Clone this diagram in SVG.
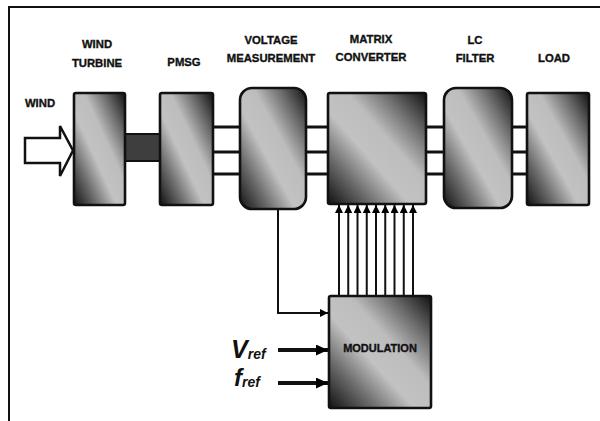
<svg xmlns="http://www.w3.org/2000/svg" width="600" height="421" viewBox="0 0 600 421">
<defs>
<linearGradient id="shade" x1="0" y1="1" x2="1" y2="0">
<stop offset="0" stop-color="#111"/>
<stop offset="0.22" stop-color="#6a6a6a"/>
<stop offset="0.42" stop-color="#c2c2c2"/>
<stop offset="0.6" stop-color="#bdbdbd"/>
<stop offset="0.8" stop-color="#6a6a6a"/>
<stop offset="1" stop-color="#111"/>
</linearGradient>
<marker id="ah" markerUnits="userSpaceOnUse" markerWidth="8" markerHeight="8" refX="8" refY="4" orient="auto">
<path d="M0,0 L8,4 L0,8 z" fill="#000"/>
</marker>
<marker id="ahb" markerUnits="userSpaceOnUse" markerWidth="12" markerHeight="11" refX="12" refY="5.5" orient="auto">
<path d="M0,0 L12,5.5 L0,11 z" fill="#000"/>
</marker>
</defs>
<style>
.box{fill:url(#shade);stroke:#111;stroke-width:2.6}
.lbl{font-family:"Liberation Sans",Arial,sans-serif;font-weight:bold;font-size:11.3px;fill:#111;stroke:#111;stroke-width:0.35;text-anchor:middle}
.bus{stroke:#111;stroke-width:3}
.thin{stroke:#111;stroke-width:2;fill:none}
.thick{stroke:#111;stroke-width:4;fill:none}
.ref{font-family:"Liberation Sans",Arial,sans-serif;font-weight:bold;font-style:italic;fill:#111}
</style>
<rect x="0" y="0" width="600" height="421" fill="#fff"/>
<path d="M9,421 L9,7 L600,7" fill="none" stroke="#111" stroke-width="2"/>

<g id="wind-input">
<text class="lbl" x="40" y="107">WIND</text>
<path d="M25,138 L60,138 L60,126 L73,150.5 L60,176 L60,163 L25,163 z" fill="#fff" stroke="#111" stroke-width="2.5" stroke-linejoin="miter"/>
</g>

<g id="shaft">
<rect x="125" y="134" width="35" height="27" fill="#3e3e3e" stroke="#111" stroke-width="2"/>
</g>

<g id="connectors">
<line class="bus" x1="213" y1="127" x2="240" y2="127"/>
<line class="bus" x1="213" y1="152" x2="240" y2="152"/>
<line class="bus" x1="213" y1="174" x2="240" y2="174"/>
<line class="bus" x1="306" y1="127" x2="328" y2="127"/>
<line class="bus" x1="306" y1="152" x2="328" y2="152"/>
<line class="bus" x1="306" y1="174" x2="328" y2="174"/>
<line class="bus" x1="426" y1="127" x2="444" y2="127"/>
<line class="bus" x1="426" y1="152" x2="444" y2="152"/>
<line class="bus" x1="426" y1="174" x2="444" y2="174"/>
<line class="bus" x1="512" y1="127" x2="527" y2="127"/>
<line class="bus" x1="512" y1="152" x2="527" y2="152"/>
<line class="bus" x1="512" y1="174" x2="527" y2="174"/>
<path class="thin" d="M278,209 L278,313 L328,313" marker-end="url(#ah)"/>
<line class="thick" x1="278" y1="350" x2="328" y2="350" marker-end="url(#ahb)"/>
<line class="thick" x1="278" y1="383" x2="328" y2="383" marker-end="url(#ahb)"/>
<line class="thin" x1="339" y1="296" x2="339" y2="205" marker-end="url(#ah)"/>
<line class="thin" x1="348.25" y1="296" x2="348.25" y2="205" marker-end="url(#ah)"/>
<line class="thin" x1="357.5" y1="296" x2="357.5" y2="205" marker-end="url(#ah)"/>
<line class="thin" x1="366.75" y1="296" x2="366.75" y2="205" marker-end="url(#ah)"/>
<line class="thin" x1="376" y1="296" x2="376" y2="205" marker-end="url(#ah)"/>
<line class="thin" x1="385.25" y1="296" x2="385.25" y2="205" marker-end="url(#ah)"/>
<line class="thin" x1="394.5" y1="296" x2="394.5" y2="205" marker-end="url(#ah)"/>
<line class="thin" x1="403.75" y1="296" x2="403.75" y2="205" marker-end="url(#ah)"/>
<line class="thin" x1="413" y1="296" x2="413" y2="205" marker-end="url(#ah)"/>
</g>

<g id="wind-turbine">
<rect class="box" x="74" y="93" width="51" height="112" rx="2"/>
<text class="lbl" x="97" y="48">WIND</text>
<text class="lbl" x="97" y="67">TURBINE</text>
</g>

<g id="pmsg">
<rect class="box" x="160" y="93" width="53" height="112" rx="2"/>
<text class="lbl" x="184" y="66">PMSG</text>
</g>

<g id="voltage-measurement">
<rect class="box" x="240" y="88" width="66" height="121" rx="12"/>
<text class="lbl" x="271" y="44">VOLTAGE</text>
<text class="lbl" x="271" y="62">MEASUREMENT</text>
</g>

<g id="matrix-converter">
<rect class="box" x="328" y="93" width="98" height="111" rx="2"/>
<text class="lbl" x="371" y="43">MATRIX</text>
<text class="lbl" x="371" y="61">CONVERTER</text>
</g>

<g id="lc-filter">
<rect class="box" x="444" y="88" width="68" height="120" rx="12"/>
<text class="lbl" x="475" y="44">LC</text>
<text class="lbl" x="475" y="62">FILTER</text>
</g>

<g id="load">
<rect class="box" x="527" y="93" width="62" height="112" rx="2"/>
<text class="lbl" x="554" y="62">LOAD</text>
</g>

<g id="modulation">
<rect class="box" x="329" y="296" width="102" height="112" rx="2"/>
<text class="lbl" x="380" y="352" style="font-size:11px">MODULATION</text>
</g>

<g id="references">
<text class="ref" x="231" y="358" font-size="25">V<tspan font-size="14" dy="1">ref</tspan></text>
<text class="ref" x="234" y="386" font-size="24">f<tspan font-size="14" dy="1">ref</tspan></text>
</g>
</svg>
